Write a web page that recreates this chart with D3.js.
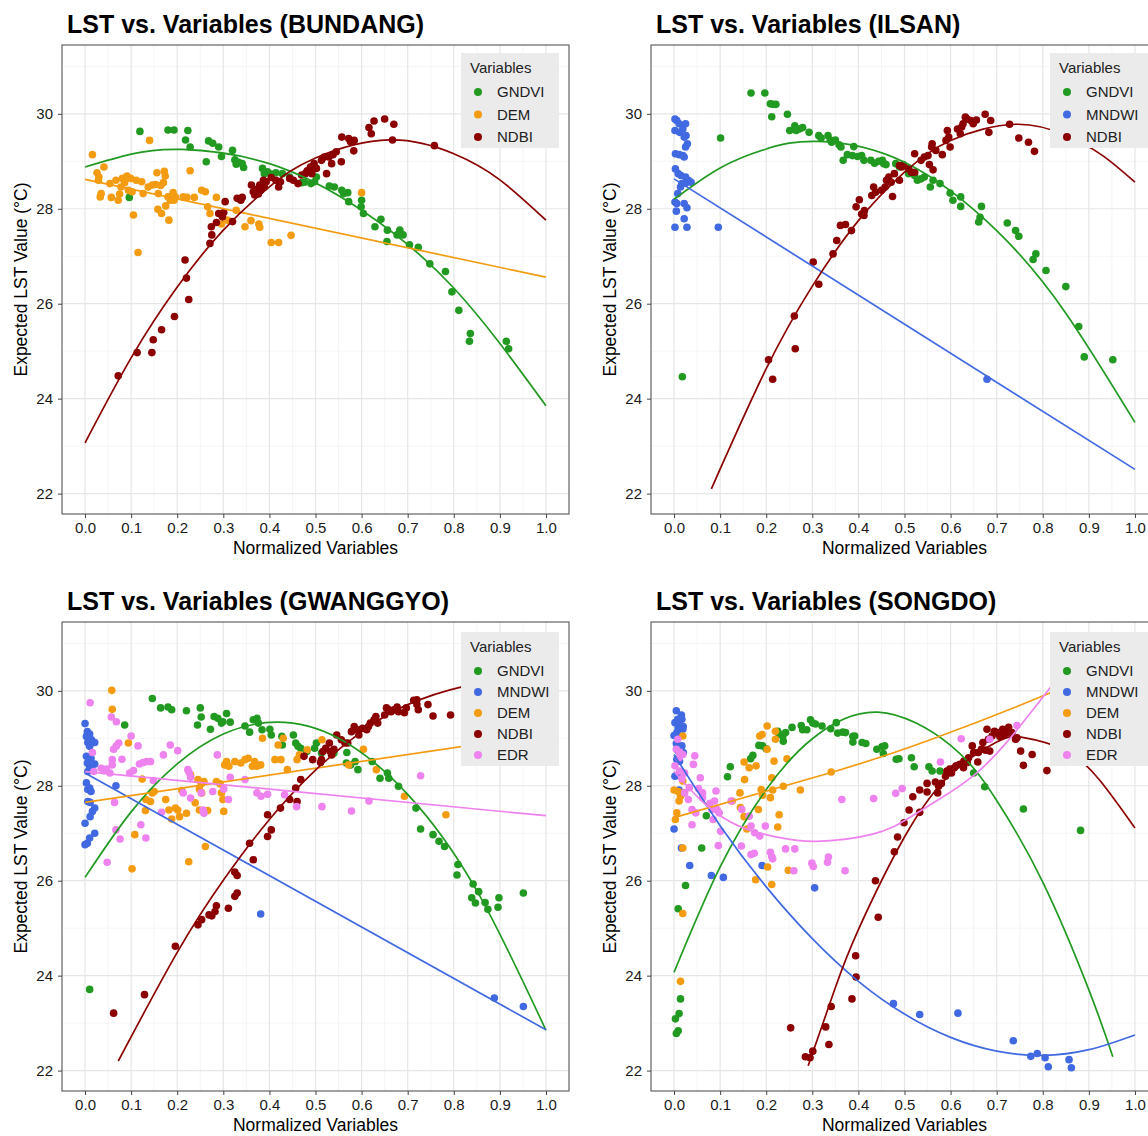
<!DOCTYPE html>
<html>
<head>
<meta charset="utf-8">
<script src="https://cdn.jsdelivr.net/npm/d3@7"></script>
<style>
  body { margin: 0; background: #fff; }
  svg { display: block; font-family: "Liberation Sans", Arial, sans-serif; }
</style>
</head>
<body>
<svg id="chart" width="1148" height="1136"></svg>
<script>
// axis breaks
var xTicks = [0, 0.1, 0.2, 0.3, 0.4, 0.5, 0.6, 0.7, 0.8, 0.9, 1.0];
var xMinor = [0.05, 0.15, 0.25, 0.35, 0.45, 0.55, 0.65, 0.75, 0.85, 0.95];
var yTicks = [22, 24, 26, 28, 30];
var yMinor = [23, 25, 27, 29, 31];

var cityNames = ['BUNDANG', 'ILSAN', 'GWANGGYO', 'SONGDO'];
var cityVariables = [
  ['GNDVI', 'DEM', 'NDBI'],
  ['GNDVI', 'MNDWI', 'NDBI'],
  ['GNDVI', 'MNDWI', 'DEM', 'NDBI', 'EDR'],
  ['GNDVI', 'MNDWI', 'DEM', 'NDBI', 'EDR']
];

// ---- BUNDANG ----
var bundangGNDVI = [[0.119,29.63],[0.180,29.66],[0.193,29.66],[0.223,29.65],[0.218,29.45],[0.228,29.30],[0.096,28.24],[0.268,29.43],[0.277,29.38],[0.290,29.30],[0.296,29.10],[0.320,29.23],[0.263,28.99],[0.325,29.03],[0.333,28.98],[0.341,28.95],[0.344,28.87],[0.328,28.94],[0.385,28.85],[0.389,28.74],[0.396,28.78],[0.404,28.73],[0.414,28.76],[0.428,28.74],[0.444,28.67],[0.470,28.55],[0.476,28.56],[0.490,28.53],[0.498,28.57],[0.502,28.67],[0.530,28.48],[0.541,28.46],[0.557,28.39],[0.561,28.32],[0.570,28.34],[0.572,28.15],[0.600,28.18],[0.599,28.04],[0.604,27.90],[0.629,27.62],[0.642,27.78],[0.656,27.55],[0.655,27.31],[0.677,27.45],[0.683,27.55],[0.690,27.45],[0.704,27.24],[0.723,27.19],[0.748,26.84],[0.782,26.68],[0.796,26.25],[0.811,25.86],[0.836,25.37],[0.834,25.21],[0.914,25.21],[0.919,25.05]];
var bundangDEM = [[0.016,29.14],[0.026,28.76],[0.030,28.67],[0.029,28.60],[0.041,28.88],[0.035,28.32],[0.033,28.25],[0.054,28.53],[0.057,28.24],[0.067,28.60],[0.072,28.18],[0.075,28.31],[0.078,28.46],[0.081,28.64],[0.086,28.55],[0.091,28.69],[0.094,28.39],[0.099,28.64],[0.102,28.36],[0.105,27.87],[0.111,28.60],[0.115,27.08],[0.123,28.57],[0.126,28.32],[0.137,28.46],[0.140,29.44],[0.146,28.50],[0.153,28.51],[0.156,28.76],[0.158,27.99],[0.159,28.32],[0.164,28.49],[0.166,27.90],[0.170,28.55],[0.172,28.79],[0.174,28.69],[0.175,28.06],[0.180,28.25],[0.182,27.76],[0.185,28.18],[0.191,28.34],[0.193,28.18],[0.196,28.25],[0.213,28.25],[0.221,28.24],[0.228,28.80],[0.237,28.24],[0.253,28.39],[0.261,28.36],[0.266,28.04],[0.271,27.90],[0.285,28.24],[0.296,27.68],[0.309,27.76],[0.328,27.97],[0.347,27.62],[0.360,27.75],[0.377,27.68],[0.379,27.61],[0.404,27.29],[0.420,27.29],[0.447,27.44],[0.600,28.34]];
var bundangNDBI = [[0.217,26.92],[0.220,26.54],[0.225,26.09],[0.194,25.73],[0.166,25.45],[0.148,25.24],[0.145,24.97],[0.113,24.97],[0.072,24.48],[0.271,27.27],[0.275,27.45],[0.274,27.62],[0.285,27.71],[0.290,27.90],[0.298,27.83],[0.304,28.15],[0.301,27.92],[0.320,27.73],[0.330,28.22],[0.338,28.18],[0.341,28.24],[0.361,28.50],[0.365,28.36],[0.368,28.29],[0.373,28.41],[0.376,28.31],[0.379,28.50],[0.381,28.39],[0.387,28.60],[0.393,28.57],[0.389,28.46],[0.404,28.66],[0.414,28.60],[0.420,28.46],[0.424,28.57],[0.444,28.64],[0.452,28.60],[0.462,28.53],[0.470,28.71],[0.478,28.74],[0.482,28.80],[0.489,28.88],[0.492,28.74],[0.497,28.95],[0.502,28.85],[0.513,29.02],[0.519,29.09],[0.524,28.74],[0.529,29.09],[0.535,28.95],[0.538,29.14],[0.545,29.20],[0.556,28.99],[0.557,29.51],[0.572,29.48],[0.576,29.41],[0.583,29.22],[0.584,29.44],[0.616,29.71],[0.621,29.58],[0.627,29.85],[0.650,29.89],[0.670,29.78],[0.667,29.45],[0.758,29.33]];
var bundangGNDVIFit = [[0,28.88],[0.1,29.15],[0.21,29.25],[0.4,28.95],[0.6,27.97],[0.8,26.33],[1.0,23.85]];
var bundangDEMFit = [[0,28.62],[1.0,26.56]];
var bundangNDBIFit = [[0,23.07],[0.1,24.86],[0.2,26.35],[0.3,27.55],[0.4,28.46],[0.5,29.07],[0.66,29.45],[0.8,29.16],[0.9,28.61],[1.0,27.76]];

// ---- ILSAN ----
var ilsanGNDVI = [[0.167,30.44],[0.197,30.44],[0.209,30.21],[0.215,30.20],[0.221,30.20],[0.212,29.94],[0.246,29.99],[0.101,29.49],[0.251,29.65],[0.262,29.75],[0.265,29.65],[0.272,29.68],[0.279,29.71],[0.293,29.61],[0.314,29.54],[0.319,29.49],[0.334,29.54],[0.339,29.45],[0.350,29.45],[0.342,29.40],[0.358,29.35],[0.362,29.30],[0.390,29.31],[0.367,29.02],[0.376,29.14],[0.387,29.12],[0.398,29.10],[0.407,29.12],[0.412,29.02],[0.427,29.02],[0.435,28.96],[0.444,29.00],[0.452,29.02],[0.455,28.95],[0.460,28.93],[0.481,28.95],[0.489,28.88],[0.497,28.93],[0.509,28.74],[0.522,28.70],[0.528,28.60],[0.536,28.63],[0.543,28.67],[0.556,28.46],[0.562,28.60],[0.577,28.53],[0.599,28.33],[0.605,28.18],[0.622,28.25],[0.622,28.05],[0.667,28.05],[0.664,27.82],[0.661,27.72],[0.723,27.70],[0.741,27.54],[0.748,27.42],[0.785,27.05],[0.779,26.93],[0.807,26.70],[0.850,26.36],[0.878,25.52],[0.890,24.88],[0.952,24.82],[0.018,24.46]];
var ilsanMNDWI = [[0.002,29.89],[0.006,29.86],[0.011,29.79],[0.025,29.79],[0.019,29.68],[0.002,29.65],[0.012,29.61],[0.026,29.54],[0.022,29.51],[0.029,29.37],[0.025,29.30],[0.003,29.16],[0.011,29.14],[0.019,29.12],[0.022,29.09],[0.003,28.84],[0.009,28.74],[0.015,28.70],[0.025,28.67],[0.031,28.60],[0.017,28.53],[0.025,28.54],[0.037,28.56],[0.014,28.46],[0.008,28.32],[0.002,28.14],[0.006,28.11],[0.005,27.95],[0.022,28.11],[0.028,28.02],[0.022,27.79],[0.002,27.61],[0.028,27.61],[0.096,27.61],[0.679,24.41]];
var ilsanNDBI = [[0.302,26.88],[0.314,26.41],[0.345,27.05],[0.353,27.33],[0.361,27.65],[0.372,27.67],[0.385,27.54],[0.395,28.04],[0.402,28.19],[0.407,27.89],[0.413,27.96],[0.412,27.86],[0.429,28.28],[0.433,28.46],[0.437,28.35],[0.450,28.39],[0.458,28.46],[0.474,28.26],[0.461,28.60],[0.466,28.67],[0.471,28.56],[0.478,28.74],[0.489,28.60],[0.494,28.88],[0.489,28.91],[0.498,28.91],[0.509,28.84],[0.515,28.77],[0.522,28.77],[0.522,29.16],[0.536,29.02],[0.543,29.09],[0.551,29.12],[0.554,28.93],[0.559,29.30],[0.560,29.37],[0.568,29.23],[0.582,29.14],[0.562,28.82],[0.590,29.44],[0.593,29.65],[0.596,29.51],[0.599,29.30],[0.615,29.68],[0.621,29.58],[0.624,29.72],[0.627,29.79],[0.632,29.93],[0.636,29.89],[0.644,29.86],[0.649,29.79],[0.656,29.87],[0.675,29.99],[0.687,29.86],[0.683,29.61],[0.728,29.78],[0.748,29.49],[0.769,29.40],[0.782,29.21],[0.205,24.82],[0.214,24.41],[0.261,25.74],[0.263,25.05]];
var ilsanGNDVIFit = [[0,28.2],[0.1,28.86],[0.2,29.26],[0.312,29.42],[0.5,28.98],[0.7,27.54],[0.85,25.8],[1.0,23.5]];
var ilsanMNDWIFit = [[0,28.63],[1.0,22.51]];
var ilsanNDBIFit = [[0.081,22.1],[0.2,24.63],[0.3,26.37],[0.4,27.75],[0.5,28.77],[0.6,29.44],[0.74,29.78],[0.85,29.55],[0.93,29.12],[1.0,28.56]];

// ---- GWANGGYO ----
var gwanggyoGNDVI = [[0.146,29.84],[0.164,29.64],[0.180,29.66],[0.188,29.60],[0.220,29.58],[0.250,29.64],[0.252,29.45],[0.244,29.28],[0.272,29.19],[0.280,29.46],[0.288,29.42],[0.299,29.35],[0.307,29.52],[0.296,29.32],[0.315,29.34],[0.347,29.26],[0.357,29.13],[0.365,29.39],[0.373,29.42],[0.376,29.32],[0.384,29.18],[0.401,29.19],[0.404,29.07],[0.427,29.04],[0.428,28.86],[0.452,29.07],[0.457,28.90],[0.462,28.83],[0.468,28.79],[0.481,28.72],[0.498,28.79],[0.502,28.90],[0.513,28.69],[0.540,28.69],[0.568,28.70],[0.567,28.48],[0.576,28.44],[0.586,28.51],[0.592,28.34],[0.623,28.51],[0.640,28.16],[0.656,28.27],[0.659,28.16],[0.680,27.99],[0.718,27.53],[0.728,27.09],[0.755,26.97],[0.768,26.83],[0.780,26.72],[0.809,26.34],[0.807,26.12],[0.086,29.28],[0.842,25.93],[0.854,25.77],[0.839,25.64],[0.847,25.53],[0.868,25.54],[0.874,25.40],[0.898,25.64],[0.896,25.44],[0.951,25.74],[0.010,23.71]];
var gwanggyoMNDWI = [[0.000,29.31],[0.005,29.14],[0.010,29.09],[0.003,29.04],[0.014,28.97],[0.021,28.91],[0.006,28.91],[0.010,28.83],[0.003,28.62],[0.013,28.58],[0.005,28.48],[0.021,28.46],[0.010,28.41],[0.014,28.39],[0.006,28.30],[0.003,28.06],[0.010,27.95],[0.006,27.92],[0.013,27.88],[0.006,27.67],[0.011,27.65],[0.021,27.53],[0.016,27.46],[0.011,27.35],[0.000,27.21],[0.021,27.00],[0.010,26.90],[0.005,26.79],[0.000,26.76],[0.067,28.00],[0.381,25.30],[0.888,23.53],[0.951,23.35]];
var gwanggyoDEM = [[0.058,30.01],[0.059,29.61],[0.094,28.90],[0.124,28.14],[0.132,27.71],[0.142,27.67],[0.131,27.48],[0.146,27.85],[0.150,27.88],[0.175,27.71],[0.182,27.49],[0.188,27.30],[0.196,27.53],[0.201,27.49],[0.205,27.35],[0.210,27.90],[0.220,27.42],[0.229,28.23],[0.239,27.64],[0.245,28.13],[0.252,28.04],[0.248,27.93],[0.253,27.85],[0.258,28.09],[0.248,27.49],[0.266,27.48],[0.285,28.09],[0.293,28.04],[0.296,27.85],[0.299,27.71],[0.301,27.46],[0.303,28.44],[0.307,28.51],[0.312,28.41],[0.325,28.51],[0.338,28.48],[0.347,28.55],[0.354,28.58],[0.363,28.41],[0.368,28.51],[0.373,28.41],[0.381,28.44],[0.385,29.00],[0.412,28.55],[0.419,28.86],[0.425,28.55],[0.430,29.00],[0.439,28.34],[0.460,28.55],[0.465,28.65],[0.482,28.76],[0.514,28.97],[0.572,28.44],[0.604,28.77],[0.632,28.34],[0.693,27.78],[0.783,27.39],[0.108,26.97],[0.102,26.25],[0.225,26.40],[0.261,26.72]];
var gwanggyoNDBI = [[0.475,28.62],[0.494,28.55],[0.513,28.55],[0.511,28.49],[0.516,28.72],[0.522,28.79],[0.530,28.90],[0.532,28.72],[0.535,28.65],[0.540,28.77],[0.546,29.07],[0.556,28.97],[0.564,28.90],[0.570,28.90],[0.578,29.14],[0.584,29.25],[0.591,29.18],[0.594,29.07],[0.602,29.21],[0.611,29.18],[0.615,29.25],[0.619,29.32],[0.627,29.39],[0.631,29.46],[0.635,29.32],[0.650,29.49],[0.654,29.64],[0.659,29.60],[0.664,29.56],[0.670,29.60],[0.677,29.66],[0.680,29.56],[0.693,29.54],[0.697,29.64],[0.713,29.80],[0.720,29.71],[0.720,29.81],[0.723,29.60],[0.744,29.71],[0.755,29.47],[0.793,29.49],[0.468,28.13],[0.457,27.95],[0.460,27.67],[0.444,27.71],[0.424,27.53],[0.396,27.39],[0.404,27.07],[0.396,26.93],[0.357,26.79],[0.365,26.44],[0.325,26.18],[0.330,26.11],[0.325,25.67],[0.330,25.74],[0.311,25.42],[0.285,25.47],[0.282,25.35],[0.269,25.28],[0.275,25.26],[0.253,25.18],[0.245,25.07],[0.196,24.62],[0.129,23.60],[0.062,23.21]];
var gwanggyoEDR = [[0.011,29.75],[0.057,29.45],[0.068,29.35],[0.062,28.77],[0.073,28.90],[0.068,28.84],[0.059,28.55],[0.059,28.44],[0.054,28.27],[0.046,28.35],[0.041,28.32],[0.035,28.37],[0.019,28.30],[0.016,28.70],[0.080,28.56],[0.100,29.05],[0.115,28.84],[0.097,28.27],[0.105,28.32],[0.118,28.46],[0.126,28.49],[0.134,28.51],[0.142,28.51],[0.148,28.11],[0.170,28.65],[0.185,28.86],[0.201,28.74],[0.223,28.34],[0.226,28.28],[0.229,28.18],[0.229,27.74],[0.213,27.85],[0.252,27.85],[0.258,27.42],[0.256,27.49],[0.277,27.88],[0.287,28.65],[0.301,27.93],[0.311,27.71],[0.315,28.18],[0.347,28.13],[0.373,27.85],[0.382,27.78],[0.396,27.82],[0.433,27.81],[0.459,27.56],[0.514,27.56],[0.578,27.47],[0.616,27.68],[0.728,28.21],[0.064,27.65],[0.067,27.07],[0.076,26.88],[0.121,27.18],[0.132,26.90],[0.166,27.44],[0.048,26.39]];
var gwanggyoGNDVIFit = [[0,26.07],[0.1,27.45],[0.2,28.46],[0.3,29.09],[0.416,29.34],[0.55,29.0],[0.7,27.82],[0.85,25.79],[1.0,22.85]];
var gwanggyoMNDWIFit = [[0,28.27],[1.0,22.86]];
var gwanggyoDEMFit = [[0,27.65],[1.0,29.09]];
var gwanggyoNDBIFit = [[0.072,22.2],[0.2,24.49],[0.3,26.01],[0.4,27.29],[0.5,28.33],[0.6,29.14],[0.7,29.71],[0.82,30.09],[0.9,30.14],[1.0,30.0]];
var gwanggyoEDRFit = [[0,28.3],[1.0,27.37]];

// ---- SONGDO ----
var songdoGNDVI = [[0.070,27.37],[0.060,26.69],[0.116,28.19],[0.122,28.40],[0.166,28.57],[0.171,28.64],[0.184,28.85],[0.192,28.84],[0.200,28.78],[0.225,29.15],[0.228,29.08],[0.236,29.05],[0.237,28.94],[0.242,29.12],[0.256,29.23],[0.276,29.27],[0.279,29.18],[0.288,29.18],[0.296,29.39],[0.301,29.32],[0.307,29.30],[0.321,29.26],[0.340,29.20],[0.352,29.33],[0.355,29.11],[0.366,29.13],[0.372,29.12],[0.388,29.04],[0.392,29.05],[0.388,28.92],[0.408,28.91],[0.416,28.89],[0.440,28.77],[0.451,28.82],[0.457,28.84],[0.454,28.68],[0.482,28.56],[0.488,28.57],[0.515,28.59],[0.521,28.40],[0.553,28.40],[0.560,28.31],[0.577,28.31],[0.650,28.27],[0.674,27.98],[0.758,27.51],[0.882,27.06],[0.025,25.90],[0.009,25.41],[0.014,23.51],[0.011,23.20],[0.003,23.09],[0.009,22.84],[0.005,22.78]];
var songdoMNDWI = [[0.005,29.58],[0.016,29.49],[0.008,29.40],[0.017,29.40],[0.002,29.33],[0.012,29.29],[0.020,29.25],[0.009,29.22],[0.019,29.19],[0.006,29.12],[0.000,29.06],[0.012,29.05],[0.005,28.89],[0.017,28.84],[0.009,28.73],[0.020,28.70],[0.006,28.56],[0.012,28.52],[0.002,28.20],[0.008,28.22],[0.011,27.91],[0.000,27.09],[0.016,26.69],[0.034,26.32],[0.081,26.11],[0.107,26.07],[0.191,26.32],[0.305,25.85],[0.476,23.41],[0.533,23.18],[0.616,23.21],[0.736,22.63],[0.774,22.30],[0.788,22.36],[0.805,22.27],[0.812,22.08],[0.857,22.23],[0.862,22.06]];
var songdoDEM = [[0.019,29.05],[0.000,27.91],[0.009,27.88],[0.014,27.78],[0.011,27.68],[0.006,27.43],[0.003,27.29],[0.019,28.10],[0.022,27.85],[0.126,27.68],[0.143,27.85],[0.144,27.54],[0.152,27.35],[0.153,28.13],[0.158,27.09],[0.152,28.50],[0.163,28.38],[0.178,28.42],[0.183,27.50],[0.186,29.05],[0.191,29.08],[0.202,29.26],[0.202,28.77],[0.192,27.80],[0.189,27.92],[0.209,27.75],[0.214,27.91],[0.212,28.17],[0.217,28.52],[0.220,28.98],[0.220,29.15],[0.228,27.39],[0.237,27.99],[0.225,27.13],[0.245,28.57],[0.274,27.91],[0.341,28.29],[0.203,26.29],[0.177,26.02],[0.212,25.92],[0.248,26.22],[0.019,25.31],[0.014,23.88],[0.019,26.69]];
var songdoNDBI = [[0.478,26.61],[0.485,26.92],[0.499,27.22],[0.510,27.49],[0.533,27.44],[0.518,27.77],[0.533,27.91],[0.549,27.87],[0.549,28.05],[0.567,28.08],[0.574,27.99],[0.572,27.85],[0.580,28.05],[0.589,28.20],[0.592,28.31],[0.598,28.35],[0.602,28.27],[0.608,28.38],[0.612,28.42],[0.620,28.45],[0.628,28.38],[0.629,28.52],[0.636,28.49],[0.639,28.59],[0.647,28.84],[0.650,28.70],[0.659,28.50],[0.660,28.70],[0.667,28.77],[0.670,28.91],[0.676,28.75],[0.679,29.19],[0.682,28.98],[0.685,28.73],[0.690,29.05],[0.695,29.15],[0.701,29.12],[0.707,29.04],[0.713,29.19],[0.716,29.08],[0.722,29.11],[0.726,29.23],[0.733,29.12],[0.741,28.98],[0.744,29.01],[0.752,28.73],[0.758,28.43],[0.777,28.66],[0.809,28.32],[0.437,26.00],[0.443,25.23],[0.394,24.42],[0.395,23.97],[0.386,23.51],[0.341,23.35],[0.329,22.92],[0.336,22.55],[0.253,22.90],[0.285,22.29],[0.295,22.27],[0.301,22.41]];
var songdoEDR = [[0.008,28.98],[0.005,28.77],[0.012,28.71],[0.019,28.66],[0.011,28.59],[0.002,28.42],[0.012,28.31],[0.017,28.15],[0.023,28.27],[0.023,27.85],[0.033,27.96],[0.031,27.71],[0.045,28.63],[0.042,28.45],[0.057,28.17],[0.053,27.94],[0.062,27.85],[0.039,27.50],[0.047,27.43],[0.039,27.18],[0.062,27.75],[0.078,27.63],[0.088,27.68],[0.082,27.50],[0.093,27.50],[0.098,27.43],[0.085,27.29],[0.101,27.04],[0.091,27.89],[0.124,27.68],[0.147,27.50],[0.163,27.36],[0.167,27.15],[0.198,27.15],[0.175,27.01],[0.186,26.94],[0.096,26.74],[0.146,26.73],[0.167,26.55],[0.174,26.58],[0.209,26.60],[0.212,26.51],[0.242,26.67],[0.262,26.67],[0.214,26.46],[0.299,26.37],[0.302,26.30],[0.335,26.50],[0.333,26.39],[0.371,26.21],[0.260,26.21],[0.364,27.71],[0.433,27.73],[0.481,27.84],[0.495,27.94],[0.578,28.50],[0.623,28.99],[0.685,28.98],[0.744,29.27]];
var songdoGNDVIFit = [[0,24.07],[0.1,26.29],[0.2,27.92],[0.3,28.99],[0.442,29.55],[0.6,28.85],[0.7,27.69],[0.8,25.97],[0.9,23.7],[0.952,22.29]];
var songdoMNDWIFit = [[0,28.66],[0.1,27.16],[0.2,25.87],[0.3,24.78],[0.4,23.88],[0.5,23.19],[0.6,22.70],[0.7,22.41],[0.8,22.32],[0.9,22.44],[1.0,22.75]];
var songdoDEMFit = [[0,27.33],[0.341,28.28],[0.562,28.99],[0.822,29.98],[1.0,30.75]];
var songdoNDBIFit = [[0.291,22.1],[0.35,23.75],[0.4,24.97],[0.5,26.92],[0.6,28.24],[0.7,28.92],[0.756,29.02],[0.85,28.74],[0.925,28.1],[1.0,27.11]];
var songdoEDRFit = [[0,28.3],[0.068,27.61],[0.141,27.15],[0.213,26.94],[0.308,26.83],[0.431,26.98],[0.504,27.29],[0.576,27.72],[0.649,28.21],[0.722,28.92],[0.822,30.14]];

var points = {
  BUNDANG: { GNDVI: bundangGNDVI, DEM: bundangDEM, NDBI: bundangNDBI },
  ILSAN: { GNDVI: ilsanGNDVI, MNDWI: ilsanMNDWI, NDBI: ilsanNDBI },
  GWANGGYO: { GNDVI: gwanggyoGNDVI, MNDWI: gwanggyoMNDWI, DEM: gwanggyoDEM, NDBI: gwanggyoNDBI, EDR: gwanggyoEDR },
  SONGDO: { GNDVI: songdoGNDVI, MNDWI: songdoMNDWI, DEM: songdoDEM, NDBI: songdoNDBI, EDR: songdoEDR }
};
var fits = {
  BUNDANG: { GNDVI: bundangGNDVIFit, DEM: bundangDEMFit, NDBI: bundangNDBIFit },
  ILSAN: { GNDVI: ilsanGNDVIFit, MNDWI: ilsanMNDWIFit, NDBI: ilsanNDBIFit },
  GWANGGYO: { GNDVI: gwanggyoGNDVIFit, MNDWI: gwanggyoMNDWIFit, DEM: gwanggyoDEMFit, NDBI: gwanggyoNDBIFit, EDR: gwanggyoEDRFit },
  SONGDO: { GNDVI: songdoGNDVIFit, MNDWI: songdoMNDWIFit, DEM: songdoDEMFit, NDBI: songdoNDBIFit, EDR: songdoEDRFit }
};

// styles / layout
var colors = { GNDVI: '#229a22', MNDWI: '#4169e1', DEM: '#f39c12', NDBI: '#8b0000', EDR: '#ee82ee' };
var offsets = [[0, 0], [589, 0], [0, 577], [589, 577]];
var legendTops = [53, 53, 55, 55];
var legendSteps = [22.5, 22.5, 21, 21];
var box = { left: 62, top: 45, right: 569, bottom: 514 };

var svg = d3.select('#chart');

var x = d3.scaleLinear().domain([-0.05, 1.05]).range([box.left, box.right]);
var y = d3.scaleLinear().domain([21.57, 31.45]).range([box.bottom, box.top]);
var line = d3.line().x(function(d) { return x(d[0]); }).y(function(d) { return y(d[1]); }).curve(d3.curveNatural);

svg.append('defs').append('clipPath').attr('id', 'plotclip')
  .append('rect').attr('x', box.left).attr('y', box.top)
  .attr('width', box.right - box.left).attr('height', box.bottom - box.top);

cityNames.forEach(function(city, i) {
  var vars = cityVariables[i];
  var g = svg.append('g').attr('transform', 'translate(' + offsets[i][0] + ',' + offsets[i][1] + ')');

  g.append('text').attr('x', 67).attr('y', 33)
    .style('font-size', '25px').style('font-weight', 'bold').style('fill', '#000')
    .text('LST vs. Variables (' + city + ')');

  g.append('rect').attr('x', box.left).attr('y', box.top)
    .attr('width', box.right - box.left).attr('height', box.bottom - box.top)
    .style('fill', '#fff');

  // grid
  g.selectAll('.xminor').data(xMinor).enter().append('line')
    .attr('x1', x).attr('x2', x).attr('y1', box.top).attr('y2', box.bottom)
    .style('stroke', '#f2f2f2').style('stroke-width', 0.8);
  g.selectAll('.yminor').data(yMinor).enter().append('line')
    .attr('x1', box.left).attr('x2', box.right).attr('y1', y).attr('y2', y)
    .style('stroke', '#f2f2f2').style('stroke-width', 0.8);
  g.selectAll('.xmajor').data(xTicks).enter().append('line')
    .attr('x1', x).attr('x2', x).attr('y1', box.top).attr('y2', box.bottom)
    .style('stroke', '#e6e6e6').style('stroke-width', 1.2);
  g.selectAll('.ymajor').data(yTicks).enter().append('line')
    .attr('x1', box.left).attr('x2', box.right).attr('y1', y).attr('y2', y)
    .style('stroke', '#e6e6e6').style('stroke-width', 1.2);

  var plot = g.append('g').attr('clip-path', 'url(#plotclip)');

  vars.forEach(function(v) {
    plot.append('g').selectAll('circle').data(points[city][v]).enter().append('circle')
      .attr('cx', function(d) { return x(d[0]); })
      .attr('cy', function(d) { return y(d[1]); })
      .attr('r', 3.8)
      .style('fill', colors[v]);
  });
  vars.forEach(function(v) {
    plot.append('path').datum(fits[city][v]).attr('d', line)
      .style('fill', 'none').style('stroke', colors[v]).style('stroke-width', 1.7);
  });

  g.append('rect').attr('x', box.left).attr('y', box.top)
    .attr('width', box.right - box.left).attr('height', box.bottom - box.top)
    .style('fill', 'none').style('stroke', '#555').style('stroke-width', 1.1);

  // axes
  var xa = g.append('g').attr('transform', 'translate(0,' + box.bottom + ')')
    .call(d3.axisBottom(x).tickValues(xTicks).tickFormat(d3.format('.1f')).tickSize(4).tickPadding(4));
  var ya = g.append('g').attr('transform', 'translate(' + box.left + ',0)')
    .call(d3.axisLeft(y).tickValues(yTicks).tickFormat(d3.format('d')).tickSize(4).tickPadding(5));
  [xa, ya].forEach(function(a) {
    a.select('.domain').remove();
    a.selectAll('line').style('stroke', '#444');
    a.selectAll('text').style('font-size', '15px').style('fill', '#1a1a1a')
      .style('font-family', '"Liberation Sans", Arial, sans-serif');
  });

  g.append('text').attr('x', (box.left + box.right) / 2).attr('y', 554)
    .attr('text-anchor', 'middle').style('font-size', '17.5px').style('fill', '#000')
    .text('Normalized Variables');
  g.append('text').attr('transform', 'translate(27,' + (box.top + box.bottom) / 2 + ') rotate(-90)')
    .attr('text-anchor', 'middle').style('font-size', '17.5px').style('fill', '#000')
    .text('Expected LST Value (°C)');

  // legend
  var lt = legendTops[i], step = legendSteps[i];
  var firstKey = lt + 39;
  var lg = g.append('g');
  lg.append('rect').attr('x', 461).attr('y', lt).attr('width', 98)
    .attr('height', 39 + (vars.length - 1) * step + 11)
    .style('fill', '#ebebeb');
  lg.append('text').attr('x', 470).attr('y', lt + 20).style('font-size', '15px').style('fill', '#222')
    .text('Variables');
  vars.forEach(function(v, k) {
    lg.append('circle').attr('cx', 478).attr('cy', firstKey + k * step).attr('r', 4)
      .style('fill', colors[v]);
    lg.append('text').attr('x', 497).attr('y', firstKey + k * step + 5)
      .style('font-size', '15px').style('fill', '#222').text(v);
  });
});
</script>
</body>
</html>
